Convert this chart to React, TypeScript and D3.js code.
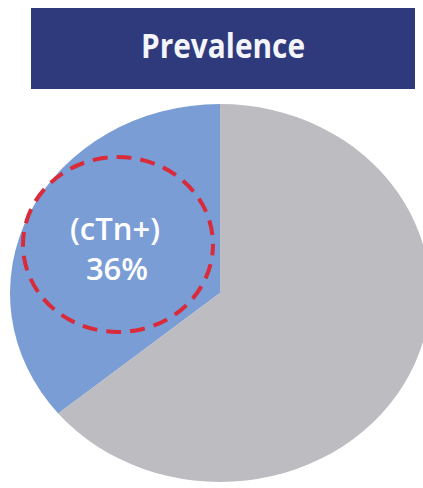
import React from "react";
import * as d3 from "d3";

// Prevalence split: troponin-positive vs the rest
const categories = ["cTn+", "cTn-"];
const values = [36, 64];
const title = "Prevalence";

const W = 423;
const H = 488;

// The pie is drawn as a circle and stretched horizontally into an ellipse
const cx = 220;
const cy = 293;
const ry = 189;
const rx = 210;

const colors: Record<string, string> = {
  "cTn+": "#7A9DD6",
  "cTn-": "#BDBCC1",
};

export default function App() {
  const total = d3.sum(values);
  const posShare = values[0] / total;
  const start = -posShare * 2 * Math.PI;

  const pie = d3
    .pie<number>()
    .sort(null)
    .value((d) => d)
    .startAngle(start)
    .endAngle(start + 2 * Math.PI);

  const arcs = pie(values);
  const arc = d3.arc<d3.PieArcDatum<number>>().innerRadius(0).outerRadius(ry);

  const font = "'Open Sans', 'DejaVu Sans', sans-serif";

  return (
    <svg
      width={W}
      height={H}
      style={{ position: "fixed", left: 0, top: 0, background: "#ffffff" }}
    >
      {/* header box */}
      <rect x={31} y={8} width={384} height={81} fill="#2E3A7C" />
      <text
        x={223}
        y={58}
        textAnchor="middle"
        fill="#F4F5FA"
        fontFamily={font}
        fontWeight={700}
        fontSize={34}
        textLength={164}
        lengthAdjust="spacingAndGlyphs"
      >
        {title}
      </text>

      {/* pie */}
      <g transform={`translate(${cx},${cy}) scale(${rx / ry},1)`}>
        {arcs.map((a, i) => (
          <path key={categories[i]} d={arc(a) || ""} fill={colors[categories[i]]} />
        ))}
      </g>

      {/* highlight ring around the positive share */}
      <ellipse
        cx={118}
        cy={244.5}
        rx={95}
        ry={87.5}
        fill="none"
        stroke="#D92B3A"
        strokeWidth={4}
        strokeDasharray="15 9"
        strokeDashoffset={4}
      />

      <text
        x={115}
        y={240}
        textAnchor="middle"
        fill="#FFFFFF"
        fontFamily={font}
        fontWeight={600}
        fontSize={31}
      >
        {`(${categories[0]})`}
      </text>
      <text
        x={117}
        y={280}
        textAnchor="middle"
        fill="#FFFFFF"
        fontFamily={font}
        fontWeight={600}
        fontSize={31}
      >
        {`${values[0]}%`}
      </text>
    </svg>
  );
}
